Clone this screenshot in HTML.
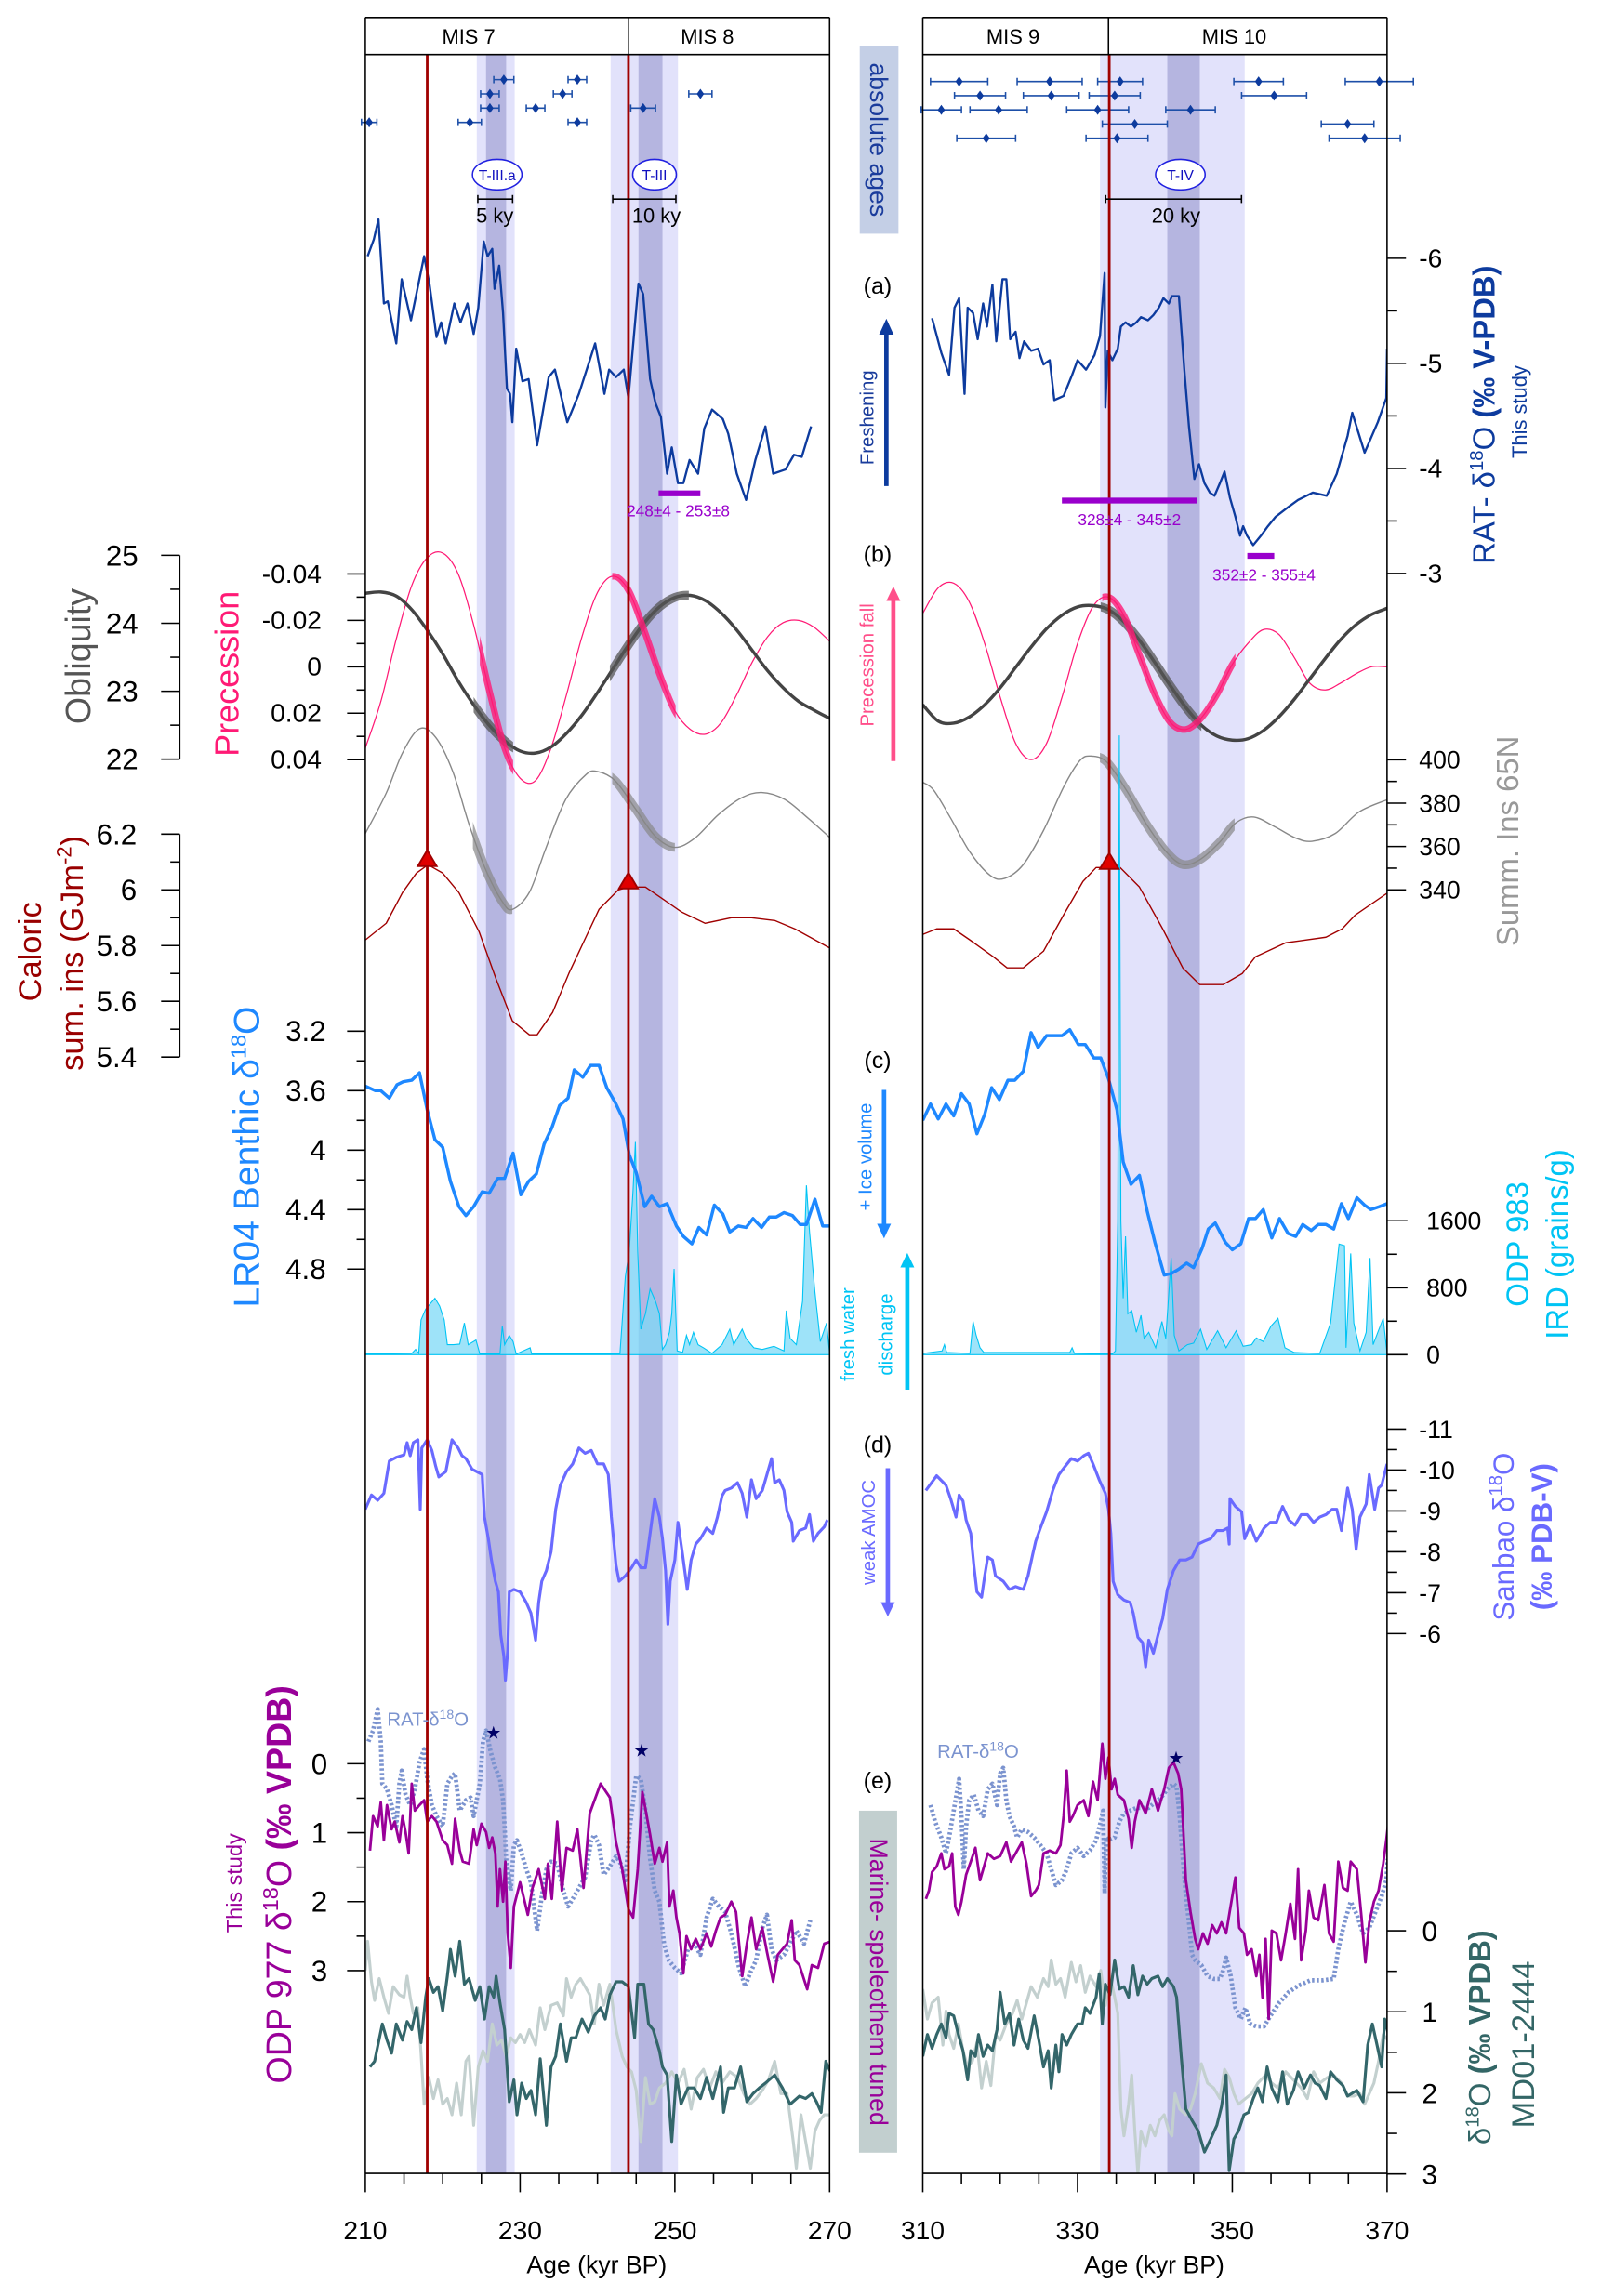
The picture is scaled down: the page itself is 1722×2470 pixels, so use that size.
<!DOCTYPE html>
<html><head><meta charset="utf-8">
<style>
body{margin:0;background:#fff}
svg{display:block}
text{font-family:"Liberation Sans",sans-serif}
</style></head>
<body>
<svg id="chart" width="1722" height="2470" viewBox="0 0 1100 1577.8" preserveAspectRatio="none" xmlns="http://www.w3.org/2000/svg">
<defs>
<clipPath id="clipL"><rect x="251" y="37.5" width="319" height="1456"/></clipPath>
<clipPath id="clipR"><rect x="634" y="37.5" width="319" height="1456"/></clipPath>
</defs>
<g id="bands"></g>
<g id="series"></g>
<g id="redlines"></g>
<g id="axes"></g>

<g>
<line x1="251" y1="12" x2="570" y2="12" stroke="#000" stroke-width="1"/>
<line x1="251" y1="37.5" x2="570" y2="37.5" stroke="#000" stroke-width="1"/>
<line x1="431.7" y1="12" x2="431.7" y2="37.5" stroke="#000" stroke-width="1"/>
<text x="322" y="30" font-size="14" text-anchor="middle">MIS 7</text>
<text x="486" y="30" font-size="14" text-anchor="middle">MIS 8</text>
</g>
<g>
<line x1="634" y1="12" x2="953" y2="12" stroke="#000" stroke-width="1"/>
<line x1="634" y1="37.5" x2="953" y2="37.5" stroke="#000" stroke-width="1"/>
<line x1="761.6" y1="12" x2="761.6" y2="37.5" stroke="#000" stroke-width="1"/>
<text x="696" y="30" font-size="14" text-anchor="middle">MIS 9</text>
<text x="848" y="30" font-size="14" text-anchor="middle">MIS 10</text>
</g>

<g fill="#1010c0">
<ellipse cx="341.6" cy="120" rx="17" ry="10.5" fill="#fff" stroke="#2020e0" stroke-width="1"/>
<text x="341.6" y="124" font-size="10" text-anchor="middle">T-III.a</text>
<ellipse cx="449.7" cy="120" rx="15" ry="10.5" fill="#fff" stroke="#2020e0" stroke-width="1"/>
<text x="449.7" y="124" font-size="10" text-anchor="middle">T-III</text>
<ellipse cx="811" cy="120" rx="17" ry="10.5" fill="#fff" stroke="#2020e0" stroke-width="1"/>
<text x="811" y="124" font-size="10" text-anchor="middle">T-IV</text>
</g>
<g stroke="#000" stroke-width="1">
<line x1="328.3" y1="136.8" x2="352.2" y2="136.8"/><line x1="328.3" y1="134" x2="328.3" y2="139.5"/><line x1="352.2" y1="134" x2="352.2" y2="139.5"/>
<line x1="421" y1="136.8" x2="464.4" y2="136.8"/><line x1="421" y1="134" x2="421" y2="139.5"/><line x1="464.4" y1="134" x2="464.4" y2="139.5"/>
<line x1="759.7" y1="136.8" x2="853" y2="136.8"/><line x1="759.7" y1="134" x2="759.7" y2="139.5"/><line x1="853" y1="134" x2="853" y2="139.5"/>
</g>
<text x="340" y="153" font-size="14" text-anchor="middle">5 ky</text>
<text x="451" y="153" font-size="14" text-anchor="middle">10 ky</text>
<text x="808" y="153" font-size="14" text-anchor="middle">20 ky</text>

<g stroke="#9900cc" stroke-width="4">
<line x1="452.5" y1="339" x2="481.2" y2="339"/>
<line x1="729.6" y1="344" x2="822.2" y2="344"/>
<line x1="857" y1="382" x2="875.5" y2="382"/>
</g>
<text x="466" y="355" font-size="11" fill="#9900cc" text-anchor="middle">248±4 - 253±8</text>
<text x="776" y="361" font-size="11" fill="#9900cc" text-anchor="middle">328±4 - 345±2</text>
<text x="868.5" y="399" font-size="11" fill="#9900cc" text-anchor="middle">352±2 - 355±4</text>

<rect x="590.7" y="31.6" width="26.6" height="129" fill="#c4cfe6"/>
<text transform="translate(598,96) rotate(90)" font-size="17" fill="#1a3c9c" text-anchor="middle">absolute ages</text>
<text x="603" y="202" font-size="16" text-anchor="middle">(a)</text>
<text transform="translate(600,287) rotate(-90)" font-size="13" fill="#1a3c9c" text-anchor="middle">Freshening</text>
<line x1="609" y1="334" x2="609" y2="228" stroke="#0d3b9e" stroke-width="3"/>
<polygon points="604,230 614,230 609,219" fill="#0d3b9e"/>
<text x="603" y="386" font-size="16" text-anchor="middle">(b)</text>
<text transform="translate(600,457) rotate(-90)" font-size="13" fill="#ff4f8a" text-anchor="middle">Precession fall</text>
<line x1="613.8" y1="523" x2="613.8" y2="412" stroke="#ff4f8a" stroke-width="3"/>
<polygon points="609,413 618.6,413 613.8,403" fill="#ff4f8a"/>
<text x="603" y="734" font-size="16" text-anchor="middle">(c)</text>
<text transform="translate(599,795) rotate(-90)" font-size="13" fill="#1e88ff" text-anchor="middle">+ Ice volume</text>
<line x1="607.4" y1="749" x2="607.4" y2="842" stroke="#1e88ff" stroke-width="3"/>
<polygon points="602.6,841 612.2,841 607.4,851" fill="#1e88ff"/>
<text transform="translate(587,917) rotate(-90)" font-size="13" fill="#00c4f4" text-anchor="middle">fresh water</text>
<text transform="translate(613,917) rotate(-90)" font-size="13" fill="#00c4f4" text-anchor="middle">discharge</text>
<line x1="623.4" y1="955" x2="623.4" y2="870" stroke="#00c4f4" stroke-width="3"/>
<polygon points="618.6,871 628.2,871 623.4,861" fill="#00c4f4"/>
<text x="603" y="998" font-size="16" text-anchor="middle">(d)</text>
<text transform="translate(601,1053) rotate(-90)" font-size="13" fill="#6a6aff" text-anchor="middle">weak AMOC</text>
<line x1="610" y1="1009" x2="610" y2="1102" stroke="#6a6aff" stroke-width="3"/>
<polygon points="605.2,1101 614.8,1101 610,1111" fill="#6a6aff"/>
<text x="603" y="1229" font-size="16" text-anchor="middle">(e)</text>
<rect x="590.2" y="1244.3" width="26.2" height="235" fill="#c2cfcf"/>
<text transform="translate(598,1362) rotate(90)" font-size="17" fill="#990099" text-anchor="middle">Marine- speleothem tuned</text>

<text transform="translate(62,451) rotate(-90)" font-size="24" fill="#555" text-anchor="middle">Obliquity</text>
<text transform="translate(164,463) rotate(-90)" font-size="23" fill="#ff1a75" text-anchor="middle">Precession</text>
<text transform="translate(28,654) rotate(-90)" font-size="22" fill="#990000" text-anchor="middle">Caloric</text>
<text transform="translate(57,655) rotate(-90)" font-size="22" fill="#990000" text-anchor="middle">sum. ins (GJm<tspan dy="-8" font-size="14">-2</tspan><tspan dy="8">)</tspan></text>
<text transform="translate(178,795) rotate(-90)" font-size="25" fill="#1e88ff" text-anchor="middle">LR04 Benthic δ<tspan dy="-9" font-size="15">18</tspan><tspan dy="9">O</tspan></text>
<text transform="translate(200,1295) rotate(-90)" font-size="24" fill="#990099" text-anchor="middle">ODP 977 δ<tspan dy="-9" font-size="15">18</tspan><tspan dy="9">O </tspan><tspan font-weight="bold">(‰ VPDB)</tspan></text>
<text transform="translate(166,1294) rotate(-90)" font-size="15" fill="#990099" text-anchor="middle">This study</text>

<text transform="translate(1027,285) rotate(-90)" font-size="21" fill="#0d3b9e" text-anchor="middle">RAT-  δ<tspan dy="-8" font-size="13">18</tspan><tspan dy="8">O </tspan><tspan font-weight="bold">(‰ V-PDB)</tspan></text>
<text transform="translate(1049,283) rotate(-90)" font-size="14" fill="#0d3b9e" text-anchor="middle">This study</text>
<text transform="translate(1043,578) rotate(-90)" font-size="21" fill="#999" text-anchor="middle">Summ. Ins 65N</text>
<text transform="translate(1050,855) rotate(-90)" font-size="21" fill="#00c4f4" text-anchor="middle">ODP 983</text>
<text transform="translate(1077,855) rotate(-90)" font-size="21" fill="#00c4f4" text-anchor="middle">IRD (grains/g)</text>
<text transform="translate(1040,1056) rotate(-90)" font-size="20" fill="#6a6aff" text-anchor="middle">Sanbao  δ<tspan dy="-8" font-size="13">18</tspan><tspan dy="8">O</tspan></text>
<text transform="translate(1066,1056) rotate(-90)" font-size="20" fill="#6a6aff" font-weight="bold" text-anchor="middle">(‰ PDB-V)</text>
<text transform="translate(1024,1400) rotate(-90)" font-size="21" fill="#336666" text-anchor="middle">δ<tspan dy="-8" font-size="13">18</tspan><tspan dy="8">O </tspan><tspan font-weight="bold">(‰ VPDB)</tspan></text>
<text transform="translate(1054,1405) rotate(-90)" font-size="22" fill="#336666" text-anchor="middle">MD01-2444</text>

<text x="266" y="1186" font-size="13" fill="#7b93cf">RAT-δ<tspan dy="-5" font-size="9">18</tspan><tspan dy="5">O</tspan></text>
<text x="644" y="1208" font-size="13" fill="#7b93cf">RAT-δ<tspan dy="-5" font-size="9">18</tspan><tspan dy="5">O</tspan></text>
<text x="339" y="1195" font-size="12" fill="#000066" text-anchor="middle">★</text>
<text x="440.7" y="1207" font-size="12" fill="#000066" text-anchor="middle">★</text>
<text x="808" y="1212" font-size="12" fill="#000066" text-anchor="middle">★</text>

<text x="410" y="1562" font-size="17" text-anchor="middle">Age (kyr BP)</text>
<text x="793" y="1562" font-size="17" text-anchor="middle">Age (kyr BP)</text>
</svg>
<script>
const bandLightL = [[224.4,229.3],[241.7,250.4]];
const bandDarkL = [[225.6,228.2],[245.3,248.4]];
const bandLightR = [[332.9,351.6]];
const bandDarkR = [[341.6,345.8]];
const redAgesL = [218.0,244.0];
const redAgesR = [334.1];

const absAgeL = [210.5,223.5,226.1,226.1,227.9,232.0,235.5,237.4,237.4,245.9,253.3];
const absErrL = [1.0,1.5,1.2,1.2,1.3,1.2,1.2,1.2,1.2,1.6,1.5];
const absRowL = [4,4,3,2,1,3,2,1,4,3,2];
const absAgeR = [314.7,326.4,335.5,353.4,369.0,317.4,326.6,334.8,355.4,312.4,319.8,332.6,344.6,337.4,364.9,318.2,335.1,367.1];
const absErrR = [3.7,4.2,2.9,3.2,4.4,3.3,3.6,3.3,4.2,2.6,3.7,4.0,3.2,4.2,3.4,3.8,4.0,4.6];
const absRowR = [1,1,1,1,1,2,2,2,2,3,3,3,3,4,4,5,5,5];

const ratLAge = [210.3,211.1,211.7,212.4,212.9,214.0,214.7,215.9,217.6,218.3,219.2,219.8,220.4,221.5,222.3,223.2,224.0,224.6,225.3,225.8,226.4,226.7,227.3,227.8,228.3,228.7,229.0,229.5,230.3,231.1,232.2,233.7,234.5,236.1,237.6,239.7,240.9,241.5,242.4,243.4,244.0,245.3,245.9,246.8,247.5,248.2,249.0,249.6,250.4,251.1,251.9,253.0,253.8,254.8,256.2,256.9,258.0,259.2,260.4,261.7,262.7,264.3,265.4,266.4,267.6];
const ratLVal = [-6.02,-6.18,-6.37,-5.57,-5.59,-5.19,-5.80,-5.41,-6.02,-5.75,-5.25,-5.39,-5.19,-5.57,-5.39,-5.57,-5.28,-5.53,-6.16,-6.02,-6.09,-5.71,-5.93,-5.48,-4.76,-4.71,-4.44,-5.14,-4.83,-4.85,-4.22,-4.87,-4.94,-4.44,-4.71,-5.19,-4.71,-4.94,-4.87,-4.94,-4.67,-5.76,-5.66,-4.85,-4.62,-4.49,-3.95,-4.20,-3.86,-3.86,-4.08,-3.95,-4.38,-4.56,-4.47,-4.33,-3.95,-3.70,-4.08,-4.40,-3.95,-3.99,-4.13,-4.11,-4.40];
const ratRAge = [311.2,312.4,313.4,314.1,314.7,315.4,315.8,316.5,317.1,317.8,318.3,319.0,319.5,320.3,320.8,321.3,322.0,322.5,323.1,324.0,324.9,325.6,326.4,327.0,328.2,329.3,330.0,331.1,332.2,332.9,333.5,333.6,333.9,334.5,335.2,335.6,336.2,336.9,337.6,338.2,339.1,339.8,340.5,341.1,341.8,342.2,343.1,343.8,344.4,345.1,345.7,346.4,347.1,347.7,348.4,349.0,349.7,350.4,351.0,351.4,351.9,352.7,353.7,354.6,355.6,357.2,358.5,360.4,362.2,363.5,364.9,365.5,367.1,368.8,369.9,370.0];
const ratRVal = [-5.43,-5.10,-4.89,-5.53,-5.62,-4.71,-5.53,-5.48,-5.23,-5.57,-5.35,-5.75,-5.21,-5.80,-5.80,-5.23,-5.30,-5.05,-5.21,-5.12,-5.14,-4.99,-5.03,-4.65,-4.69,-4.89,-5.03,-4.94,-5.08,-5.26,-5.86,-4.58,-5.12,-5.03,-5.14,-5.35,-5.39,-5.35,-5.39,-5.44,-5.41,-5.46,-5.53,-5.62,-5.57,-5.64,-5.64,-4.94,-4.40,-3.90,-4.04,-3.86,-3.77,-3.74,-3.86,-3.97,-3.72,-3.54,-3.36,-3.45,-3.36,-3.27,-3.36,-3.45,-3.54,-3.63,-3.70,-3.77,-3.74,-3.95,-4.31,-4.53,-4.15,-4.44,-4.67,-5.14];

const orbAgeL = [210,212,214,216,218,220,222,224,226,228,230,232,234,236,238,240,242,244,246,248,250,252,254,256,258,260,262,264,266,268,270];
const precL = [0.035,0.015,-0.012,-0.035,-0.047,-0.049,-0.04,-0.018,0.01,0.035,0.048,0.049,0.035,0.012,-0.013,-0.032,-0.039,-0.033,-0.016,0.003,0.019,0.027,0.029,0.024,0.012,-0.002,-0.013,-0.019,-0.02,-0.017,-0.011];
const oblL = [24.44,24.46,24.4,24.2,23.9,23.55,23.15,22.8,22.5,22.27,22.12,22.09,22.18,22.38,22.65,22.98,23.33,23.68,24.0,24.24,24.38,24.41,24.33,24.15,23.9,23.6,23.3,23.05,22.85,22.72,22.6];
const orbAgeR = [310,312,314,316,318,320,322,324,326,328,330,332,334,336,338,340,342,344,346,348,350,352,354,356,358,360,362,364,366,368,370];
const precR = [-0.023,-0.034,-0.036,-0.028,-0.01,0.013,0.033,0.04,0.033,0.013,-0.01,-0.026,-0.03,-0.022,-0.005,0.012,0.024,0.027,0.022,0.012,-0.001,-0.01,-0.016,-0.014,-0.004,0.007,0.01,0.007,0.003,0.0,0.0];
const oblR = [22.8,22.56,22.53,22.62,22.8,23.05,23.35,23.65,23.92,24.12,24.24,24.26,24.2,24.02,23.75,23.42,23.08,22.76,22.5,22.34,22.28,22.3,22.42,22.62,22.88,23.18,23.48,23.76,23.98,24.13,24.22];

const insAgeL = [210,212.7,214.8,217.0,219.1,221.3,223.4,225.6,227.7,229.0,231.2,233.3,235.9,238.5,240.0,242.3,244.9,247.5,250.0,252.6,255.6,258.6,261.2,264.2,267.2,270.1];
const insValL = [366,384.6,403.1,414.3,410.3,394.6,370.3,348.9,334.6,331,338.9,358.9,381.7,393.1,394.6,390.3,377.4,364.6,359.6,363.9,374.6,382.4,384.9,381.7,373.1,363.9];
const insAgeR = [310,311.4,313.6,316.1,318.7,320.6,323.0,325.6,328.2,330.3,331.8,333.8,336.3,338.9,341.5,343.6,345.8,348.3,350.5,352.8,355.6,358.2,360.3,363.3,366.4,370.1];
const insValR = [389.6,386,373.1,357.4,346.7,345.3,351.7,367.4,387.4,399.6,401.7,398.9,386,370.3,357.4,351.7,353.9,361.7,371,373.6,368.9,363.9,362.4,366,376,381.7];

const calAgeL = [210,212.7,214.8,216.6,218.1,220.0,222.1,224.7,226.9,229.0,231.2,232.2,234.2,236.3,238.5,240.2,242.7,244.0,246.2,248.3,250.9,253.9,257.3,259.9,262.9,265.5,270.1];
const calValL = [5.82,5.88,5.99,6.06,6.09,6.06,5.99,5.85,5.68,5.53,5.48,5.48,5.56,5.70,5.83,5.93,6.0,6.01,6.01,5.97,5.92,5.88,5.90,5.90,5.89,5.86,5.79];
const calAgeR = [310,311.8,314.0,316.1,319.1,320.9,323.0,325.6,328.2,330.7,332.4,335.5,338.0,341.0,343.6,345.8,348.8,351.3,353.0,356.9,362.1,364.2,365.9,370.1];
const calValR = [5.84,5.86,5.86,5.82,5.76,5.72,5.72,5.78,5.91,6.03,6.08,6.08,6.01,5.86,5.72,5.66,5.66,5.70,5.76,5.81,5.83,5.86,5.91,5.99];
const triAgeL = [218.0,244.0];
const triValL = [6.09,6.01];
const triAgeR = [334.1];
const triValR = [6.08];

const lrAgeL = [210.0,211.3,212.0,213.1,214.1,214.9,216.0,217.0,218.0,219.0,220.0,221.0,222.1,223.0,224.0,225.1,226.0,227.1,228.0,229.1,230.1,231.1,232.1,233.1,234.1,235.1,236.2,237.0,238.1,239.1,240.2,241.2,242.3,243.3,244.1,245.0,246.1,247.0,248.0,249.0,250.2,251.1,252.2,253.1,254.1,255.1,256.2,257.1,258.2,259.2,260.1,261.2,262.2,263.1,264.1,265.2,266.2,267.0,268.1,269.1,270.0];
const lrValL = [3.57,3.60,3.60,3.65,3.56,3.54,3.53,3.48,3.73,3.93,3.98,4.21,4.38,4.44,4.38,4.28,4.29,4.19,4.19,4.02,4.30,4.21,4.16,3.96,3.85,3.70,3.65,3.46,3.51,3.43,3.43,3.58,3.68,3.79,4.03,4.15,4.38,4.31,4.38,4.36,4.51,4.58,4.63,4.52,4.57,4.37,4.43,4.55,4.51,4.52,4.46,4.52,4.45,4.45,4.42,4.44,4.50,4.50,4.33,4.51,4.51];
const lrAgeR = [310.0,311.0,312.0,313.0,314.0,315.0,316.0,317.0,318.0,318.9,319.9,321.0,321.9,323.0,324.0,324.9,326.0,327.1,328.0,329.0,330.1,331.0,332.1,333.0,334.0,335.1,335.9,336.9,338.0,339.0,340.0,341.2,342.1,343.1,344.1,345.0,346.1,346.9,347.8,349.1,350.0,351.1,352.1,353.0,354.0,355.1,356.1,357.2,358.2,359.1,360.2,361.1,362.1,363.1,364.1,365.0,366.1,367.1,367.9,369.0,370.0];
const lrValR = [3.80,3.69,3.79,3.69,3.77,3.62,3.69,3.89,3.76,3.58,3.66,3.53,3.53,3.47,3.21,3.31,3.23,3.23,3.23,3.19,3.29,3.29,3.38,3.38,3.52,3.73,4.08,4.23,4.17,4.41,4.62,4.84,4.83,4.80,4.76,4.79,4.66,4.53,4.49,4.62,4.67,4.63,4.46,4.46,4.40,4.59,4.46,4.56,4.58,4.50,4.54,4.50,4.50,4.53,4.36,4.46,4.32,4.37,4.40,4.38,4.36];

const irdAgeL = [210,216.0,216.5,216.9,217.2,217.8,219.0,219.6,220.2,220.6,221.4,222.2,222.8,223.3,224.3,224.8,227.4,227.7,228.0,228.6,229.1,229.5,231.3,231.5,231.8,232.1,242.9,243.6,244.1,244.6,244.9,245.2,245.6,246.2,246.8,247.5,248.0,248.4,248.8,249.3,249.6,249.9,250.3,251.0,251.5,251.9,252.4,253.0,253.7,254.8,256.1,257.1,257.6,258.7,259.2,260.2,261.3,262.8,264.1,264.4,264.9,265.7,266.5,267.0,267.4,268.1,268.8,269.6,270];
const irdValL = [8,15,63,15,415,544,674,581,415,119,119,126,378,119,174,8,8,341,119,230,156,8,82,8,8,8,8,933,1229,1969,2542,1229,304,489,785,637,489,63,119,267,489,1025,45,26,230,119,267,119,82,15,119,304,119,304,193,82,63,100,45,526,193,119,637,2024,1469,748,156,378,8];
const irdAgeR = [310,312.5,312.8,313.1,316.1,316.5,316.9,317.4,317.9,329.0,329.3,329.6,334.5,334.9,335.2,335.4,335.6,335.9,336.2,336.5,337.0,337.6,338.2,338.6,339.2,340.1,340.9,341.4,342.1,342.5,343.1,344.2,345.0,345.9,346.7,348.1,349.2,350.5,351.4,352.5,353.1,354.0,355.0,355.9,356.8,358.0,361.3,362.7,363.8,364.5,364.7,365.3,365.7,366.5,367.3,367.8,368.2,368.8,369.5,370];
const irdValR = [15,45,119,26,15,396,230,82,26,26,82,15,8,45,1599,7400,1599,674,1414,489,526,267,470,193,267,82,396,193,1155,230,45,119,137,304,63,285,82,285,100,119,200,156,341,433,82,26,15,378,1321,1303,82,1210,378,45,267,1155,119,267,433,15];

const sanAgeL = [210.0,210.8,211.6,212.4,213.1,214.0,215.0,215.4,215.8,216.2,216.8,217.1,217.3,218.0,218.6,219.1,219.5,220.4,221.2,222.0,222.5,223.0,223.8,224.4,225.1,225.4,225.9,226.3,226.8,227.2,227.5,227.9,228.1,228.4,228.6,229.2,230.0,230.8,231.4,232.0,232.4,232.8,233.4,234.0,234.6,235.2,236.0,236.8,237.6,238.4,239.2,240.0,240.8,241.4,241.8,242.4,242.8,243.6,244.4,245.0,245.6,246.2,246.8,247.4,248.0,248.4,248.8,249.1,249.4,250.0,250.4,251.0,251.6,252.1,252.7,253.3,254.1,254.9,255.5,256.1,256.5,257.3,258.1,258.7,259.3,259.9,260.5,261.3,261.9,262.5,262.9,263.5,264.1,264.5,265.1,265.3,266.1,266.9,267.4,267.9,268.5,269.3,269.7];
const sanValL = [-9.04,-9.39,-9.26,-9.43,-10.22,-10.31,-10.37,-10.67,-10.35,-10.67,-10.74,-9.04,-10.54,-10.74,-10.48,-10.09,-9.83,-9.96,-10.74,-10.54,-10.35,-10.28,-10.02,-9.96,-9.89,-8.85,-8.32,-7.80,-7.28,-7.02,-5.97,-5.45,-4.86,-5.58,-7.02,-7.08,-7.02,-6.76,-6.50,-5.84,-6.76,-7.28,-7.54,-8.0,-9.04,-9.63,-9.96,-10.15,-10.54,-10.41,-10.48,-10.15,-10.15,-9.89,-8.85,-7.67,-7.28,-7.41,-7.61,-7.80,-7.61,-7.61,-8.45,-9.30,-8.85,-8.32,-7.54,-6.23,-7.28,-7.80,-8.72,-7.93,-7.08,-7.80,-8.19,-8.32,-8.58,-8.45,-8.85,-9.37,-9.50,-9.56,-9.69,-9.43,-8.85,-9.76,-9.30,-9.50,-9.89,-10.28,-9.69,-9.76,-9.50,-8.98,-8.72,-8.26,-8.52,-8.58,-8.91,-8.26,-8.45,-8.61,-8.78];
const sanAgeR = [310.4,311.8,313.0,313.6,314.3,314.7,315.2,315.6,316.2,316.6,317.0,317.6,318.0,318.4,319.0,319.4,320.4,321.2,322.0,323.0,323.6,324.2,324.6,325.2,326.0,326.8,327.6,328.4,329.2,330.0,330.8,331.4,332.0,332.8,333.6,334.0,334.3,334.6,335.2,336.0,336.8,337.2,337.8,338.4,338.8,339.2,339.8,340.4,341.0,341.6,342.4,343.2,344.0,344.8,345.6,346.4,347.2,348.0,348.8,349.4,349.6,349.7,350.4,351.2,351.6,352.3,353.1,354.1,354.9,355.7,356.5,357.3,358.1,358.9,359.7,360.5,361.3,362.1,362.9,363.5,364.1,364.9,365.5,366.0,366.5,367.3,367.7,368.4,368.9,369.3,370.0];
const sanValR = [-9.50,-9.86,-9.63,-9.30,-8.85,-9.39,-9.24,-8.78,-8.45,-7.67,-7.02,-6.89,-7.41,-7.87,-7.80,-7.41,-7.28,-7.08,-7.15,-7.08,-7.41,-7.93,-8.26,-8.58,-8.98,-9.50,-9.89,-10.09,-10.28,-10.22,-10.35,-10.41,-10.15,-9.76,-9.43,-9.04,-8.45,-7.28,-6.95,-6.82,-6.76,-6.50,-5.91,-5.78,-5.19,-5.84,-5.52,-5.97,-6.37,-7.08,-7.54,-7.80,-7.80,-7.87,-8.19,-8.26,-8.32,-8.52,-8.52,-8.58,-8.19,-9.30,-9.11,-8.98,-8.32,-8.65,-8.26,-8.58,-8.72,-8.72,-9.11,-8.78,-8.65,-8.91,-8.91,-8.72,-8.85,-8.91,-9.04,-9.04,-8.52,-9.56,-9.04,-8.06,-8.85,-9.17,-9.89,-9.04,-9.56,-9.63,-10.15];

const odpAgeL = [210.6,211.0,211.6,212.0,212.4,212.8,213.4,213.8,214.4,214.8,215.2,215.6,216.0,216.4,217.0,217.6,218.0,218.6,219.2,220.0,220.6,221.2,221.6,222.2,222.6,223.4,224.0,224.4,225.0,225.6,226.0,226.4,226.8,227.1,227.4,227.8,228.1,228.4,228.8,229.2,230.0,231.0,231.6,232.4,233.2,233.6,234.1,234.8,235.4,236.0,236.8,237.4,238.2,239.0,240.4,241.6,242.4,243.2,244.0,244.6,245.2,245.8,246.8,247.4,248.0,248.4,249.0,249.3,249.8,250.2,250.6,251.1,251.5,252.1,252.7,253.3,254.1,254.7,255.3,255.9,256.5,257.3,257.9,258.7,259.3,259.9,260.5,261.3,261.9,262.7,263.3,263.9,264.5,265.1,265.5,266.1,267.1,267.7,268.5,269.3,270.1];
const odpValL = [1.26,0.76,0.91,0.56,1.11,0.60,0.95,0.84,1.14,0.76,0.99,1.30,0.29,0.68,0.60,0.53,0.84,0.76,0.84,1.11,1.18,1.45,0.80,1.26,1.42,1.45,0.95,1.18,0.87,0.99,1.22,1.07,1.30,2.07,1.53,2.0,1.42,2.46,2.96,2.07,1.72,2.19,1.80,1.53,1.96,1.45,1.96,0.84,1.84,1.22,1.26,0.95,1.80,0.72,0.29,0.49,1.14,1.53,2.11,2.23,1.53,0.41,1.03,1.45,1.22,1.42,1.14,2.07,1.84,2.23,2.46,3.04,2.50,2.69,2.54,2.69,2.46,2.65,2.42,2.23,2.19,2.0,2.15,3.08,2.61,2.23,2.69,2.38,2.73,3.16,2.77,2.69,2.61,2.27,2.85,2.92,3.27,2.92,2.96,2.61,2.58];
const ratdAgeL = [210.4,211.0,211.6,212.0,212.2,212.8,213.4,214.0,214.4,214.7,215.2,215.8,216.4,217.0,217.6,218.0,218.6,219.2,220.0,220.6,221.2,221.6,222.2,223.0,223.6,224.0,224.8,225.2,225.6,226.2,226.8,227.4,227.8,228.0,228.2,228.8,229.2,229.6,230.2,230.8,231.4,232.2,232.8,233.4,234.0,234.8,235.6,236.2,236.8,237.6,238.4,239.2,239.6,240.2,240.8,241.6,242.4,243.0,243.6,244.2,245.0,245.6,246.2,246.8,247.4,248.0,248.6,249.2,250.0,250.8,251.7,252.5,253.3,254.1,254.9,255.7,256.5,257.3,258.3,259.1,259.7,260.5,261.3,261.9,262.5,263.1,264.1,264.9,265.7,266.7,267.5];
const ratdValL = [-0.32,-0.48,-0.79,-0.32,0.29,0.37,0.60,0.91,0.29,0.10,0.45,0.60,0.37,-0.02,-0.21,0.22,0.60,0.76,0.91,0.29,0.18,0.14,0.68,0.53,0.49,0.76,0.29,-0.32,-0.48,-0.17,0.06,0.22,0.53,0.91,1.38,1.84,1.18,1.11,1.30,1.53,1.72,2.42,1.92,1.53,1.42,1.45,1.84,2.07,1.96,1.80,1.65,1.11,1.03,1.18,1.61,1.49,1.34,1.45,1.69,0.91,0.18,0.22,0.68,1.38,1.84,2.0,2.61,2.85,2.96,3.04,2.69,2.61,2.77,2.23,1.96,2.07,2.15,2.46,2.96,3.23,3.04,2.85,2.38,2.19,2.69,2.85,2.77,2.61,2.42,2.61,2.27];
const mdAgeL = [210.6,211.2,212.2,212.8,213.4,214.0,214.8,215.4,216.0,216.6,217.2,217.8,218.2,218.8,219.4,220.0,220.6,221.0,221.6,222.2,222.8,223.4,224.2,224.8,225.4,226.0,226.6,226.9,227.4,228.0,228.6,229.2,229.6,230.2,230.8,231.4,232.0,232.6,233.4,234.0,234.6,235.2,236.0,236.6,237.2,238.0,238.8,239.6,240.4,241.0,241.6,242.4,243.2,244.0,244.8,245.2,246.0,246.6,247.2,248.0,248.4,249.0,249.6,250.2,250.8,251.7,252.5,253.3,254.1,254.9,255.9,256.3,256.9,257.7,258.5,259.3,260.1,260.9,261.7,262.9,263.9,264.9,266.1,266.9,267.7,268.3,268.9,269.5,270.1];
const mdValL = [1.68,1.61,1.15,1.35,1.51,1.15,1.35,1.12,1.22,0.95,1.38,0.82,0.59,0.76,0.69,0.99,0.56,0.23,0.56,0.13,0.66,0.59,0.86,0.69,1.09,0.69,0.82,0.56,0.89,1.22,2.11,1.84,2.27,1.88,2.07,1.97,2.27,1.58,2.40,1.68,1.55,1.15,1.61,1.32,1.32,1.09,1.25,1.05,0.95,1.09,0.79,0.63,0.63,0.69,1.32,0.66,0.66,1.15,1.22,1.48,1.68,1.78,2.60,1.78,2.14,1.94,1.94,2.07,1.81,2.07,1.68,2.24,1.94,1.94,1.68,2.11,2.01,1.94,1.88,1.78,1.94,2.14,2.04,2.07,2.01,2.11,2.24,1.61,1.74];
const lgAgeL = [210.0,210.3,210.8,211.2,211.8,212.4,213.0,213.6,214.4,215.0,215.4,215.8,216.2,216.8,217.2,217.6,218.2,218.8,219.4,220.0,220.6,221.2,221.8,222.4,223.0,223.4,224.0,224.6,225.2,225.8,226.4,227.0,227.6,228.2,228.8,229.4,230.0,230.6,231.2,232.0,232.6,233.2,234.0,234.8,235.6,236.0,236.6,237.2,237.8,238.4,239.0,239.6,240.2,240.8,241.6,242.4,243.2,243.8,244.4,245.0,245.6,246.2,246.8,247.4,248.0,248.8,249.6,250.4,251.2,252.1,252.9,253.7,254.5,255.3,256.1,257.1,258.1,258.9,259.7,260.5,261.3,262.1,262.9,263.7,264.5,265.3,265.7,266.3,266.9,267.5,268.1,268.7,269.3,270.1];
const lgValL = [0.49,0.13,0.63,0.86,0.59,0.82,1.02,0.69,0.79,0.82,0.56,0.82,1.02,0.95,1.51,2.14,1.81,2.07,1.84,2.14,2.07,2.27,1.88,2.27,1.61,1.55,2.40,1.68,1.48,1.61,1.15,1.41,1.35,1.55,1.32,1.38,1.28,1.38,1.22,1.41,0.95,1.22,0.92,0.89,1.05,0.59,0.82,0.66,0.59,0.69,0.79,1.15,0.66,0.92,0.66,1.22,1.55,1.68,1.74,1.97,2.60,1.81,2.14,2.11,1.94,1.88,1.74,1.88,1.71,2.20,1.81,1.71,1.94,1.74,1.88,1.74,1.81,2.01,2.14,2.07,1.97,1.84,1.61,2.01,2.01,2.60,2.93,2.27,2.60,2.93,2.47,2.34,2.27,2.27];

const odpAgeR = [310.4,310.8,311.2,311.8,312.4,312.8,313.4,313.8,314.2,314.6,315.0,315.6,316.2,316.8,317.4,318.4,319.2,320.0,320.8,321.4,322.0,322.8,323.4,324.0,324.6,325.0,325.6,326.4,327.2,327.8,328.2,328.6,329.0,329.4,330.0,330.8,331.4,332.0,332.6,333.2,333.6,334.0,334.4,334.8,335.2,336.0,336.6,337.0,337.4,338.0,338.8,339.6,340.4,341.2,341.8,342.4,343.0,343.4,344.0,344.6,345.2,345.6,346.2,346.8,347.4,348.0,348.6,349.2,350.0,350.4,350.9,351.5,351.9,352.5,353.1,353.5,353.9,354.3,354.7,355.1,355.7,356.3,356.9,357.5,358.1,358.5,358.9,359.5,359.9,360.5,361.1,361.9,362.5,363.1,363.7,364.3,364.9,365.3,366.1,366.7,367.2,367.7,368.3,368.9,369.5,369.9,370.1];
const odpValR = [1.96,1.84,1.57,1.49,1.30,1.53,1.49,1.30,2.07,2.19,2.0,1.61,1.42,1.22,1.69,1.30,1.38,1.34,1.14,1.42,1.30,1.14,1.45,1.92,1.84,1.76,1.30,1.26,1.30,1.18,0.76,0.10,0.84,0.76,0.60,0.53,0.76,0.26,0.53,-0.29,0.22,-0.09,0.37,0.22,0.45,0.53,0.80,1.22,0.84,0.53,0.72,0.37,0.68,0.37,0.06,-0.02,0.14,0.37,1.69,2.15,2.54,2.69,2.46,2.61,2.34,2.46,2.30,2.46,1.92,1.65,2.38,2.46,2.77,2.69,3.08,2.77,3.39,2.54,3.70,2.42,2.46,2.85,2.46,2.03,2.54,1.53,2.85,2.42,1.84,2.23,2.27,1.76,2.46,2.58,1.42,1.80,1.84,1.42,1.53,2.23,2.88,2.30,2.0,1.84,1.45,1.11,0.91];
const ratdAgeR = [311.0,311.6,312.4,313.0,313.4,314.0,314.7,315.0,315.3,315.6,316.0,316.6,317.2,317.8,318.4,319.0,319.6,320.0,320.4,320.8,321.2,321.8,322.2,322.8,323.6,324.4,325.2,326.0,326.6,327.2,328.0,328.6,329.2,330.0,330.8,331.6,332.4,333.0,333.3,333.5,333.7,334.0,334.8,335.4,336.0,336.8,337.6,338.4,339.2,340.0,340.8,341.6,342.4,342.8,343.2,343.6,344.0,344.4,344.8,345.2,346.0,346.8,347.6,348.4,348.8,349.2,349.8,350.4,351.1,351.7,352.3,353.1,354.1,354.9,356.1,357.3,358.5,360.1,361.7,363.1,363.7,364.5,365.3,366.1,366.9,367.7,368.5,369.3,369.9,370.1];
const ratdValR = [0.60,0.84,1.07,1.30,1.07,0.68,0.22,0.76,1.53,0.91,0.53,0.45,0.68,0.76,0.37,0.29,0.60,0.14,0.06,0.53,0.76,0.91,1.07,0.95,0.99,1.07,1.18,1.30,1.53,1.76,1.69,1.53,1.30,1.22,1.34,1.26,1.11,0.84,0.68,1.88,1.07,1.11,1.07,0.84,0.72,0.68,0.64,0.64,0.64,0.56,0.49,0.37,0.29,0.33,0.76,1.38,1.92,2.30,2.77,2.85,2.92,3.08,3.12,3.12,3.0,2.81,3.08,3.54,3.70,3.54,3.77,3.81,3.81,3.66,3.46,3.31,3.22,3.14,3.14,3.12,2.69,2.30,2.0,2.19,2.46,2.38,2.15,1.92,1.69,1.38];
const mdAgeR = [310.0,310.6,311.2,311.8,312.4,313.0,313.4,314.0,314.6,315.2,315.8,316.2,316.8,317.2,317.8,318.4,319.0,319.6,320.0,320.6,321.2,321.8,322.4,323.0,323.6,324.4,325.0,325.6,326.2,326.6,327.2,327.6,328.0,328.6,329.2,330.0,330.6,331.0,331.6,332.4,332.8,333.2,333.6,334.2,334.8,335.4,336.0,336.6,337.2,337.8,338.4,339.0,339.6,340.4,341.0,341.6,342.4,342.8,343.4,344.0,344.8,345.6,346.4,347.2,348.0,348.6,349.2,349.6,350.2,350.8,351.5,352.1,352.7,353.3,353.9,354.5,355.1,355.9,356.5,357.1,357.9,358.5,359.3,360.1,360.7,361.3,362.1,362.7,363.5,364.3,364.9,366.1,366.9,367.5,368.1,368.7,369.3,369.7,370.1];
const mdValR = [1.55,1.28,1.45,1.28,1.15,1.32,1.02,1.05,1.28,1.48,1.84,1.48,1.55,1.28,1.55,1.41,1.48,1.22,0.76,1.15,1.02,1.41,1.09,1.35,1.45,1.05,1.35,1.68,1.48,1.94,1.41,1.74,1.28,1.41,1.28,1.15,1.15,0.95,1.02,0.82,0.53,1.15,0.66,0.79,0.36,0.72,0.69,0.82,0.43,0.79,0.56,0.66,0.59,0.56,0.69,0.59,0.69,0.82,1.55,2.20,2.34,2.47,2.73,2.57,2.40,2.17,1.78,2.96,2.57,2.47,2.27,2.24,2.07,1.94,2.11,1.68,1.94,2.11,1.74,2.14,1.97,1.74,1.94,1.78,1.88,1.91,2.07,1.74,1.84,1.91,2.04,1.97,2.11,1.41,1.15,1.41,1.68,1.09,1.25];
const lgAgeR = [310.0,310.6,311.2,312.0,312.6,313.0,313.4,314.0,314.6,315.2,315.8,316.4,317.0,317.6,318.2,318.8,319.4,320.0,320.8,321.6,322.2,322.8,323.4,324.0,324.8,325.6,326.2,326.6,327.2,327.8,328.4,329.2,329.8,330.4,331.0,331.6,332.4,333.0,333.6,334.2,334.8,335.2,335.6,336.0,336.6,337.0,337.4,337.8,338.2,338.8,339.4,340.0,340.6,341.2,341.8,342.2,342.6,343.2,344.0,344.6,345.2,346.0,346.8,347.6,348.4,349.0,349.6,350.2,350.8,351.7,352.5,353.3,354.3,355.1,355.9,356.9,357.9,358.9,359.7,360.5,361.3,362.3,363.1,364.1,364.9,365.7,366.5,367.1,367.7,368.3,368.9,369.5,370.1];
const lgValR = [0.72,1.09,0.89,0.82,1.41,0.99,1.28,1.45,1.15,1.48,1.68,1.61,1.38,1.94,1.61,1.91,1.28,1.35,1.15,1.02,0.86,1.09,0.89,0.69,0.82,0.59,0.69,0.36,0.66,0.59,0.82,0.39,0.63,0.43,0.76,0.56,0.69,0.49,0.92,0.56,0.82,1.02,2.20,2.53,2.14,1.78,2.47,3.0,2.47,2.66,2.40,2.53,2.34,2.27,2.47,2.53,2.01,2.20,2.27,2.20,2.01,1.64,1.88,1.94,2.07,1.71,1.81,2.01,2.14,2.07,2.01,1.88,1.78,1.88,1.94,1.74,1.84,1.94,2.07,1.74,1.88,1.81,1.78,1.88,2.04,2.04,2.01,2.14,2.01,1.88,1.61,1.28,1.35];

const xTicksL = [210,230,250,270];
const xTicksR = [310,330,350,370];
const ratTicks = [-6,-5,-4,-3];
const precTicks = [-0.04,-0.02,0,0.02,0.04];
const oblTicks = [25,24,23,22];
const insTicks = [400,380,360,340];
const calTicks = [6.2,6,5.8,5.6,5.4];
const lrTicks = [3.2,3.6,4,4.4,4.8];
const irdTicks = [1600,800,0];
const sanTicks = [-11,-10,-9,-8,-7,-6];
const odpTicks = [0,1,2,3];
const mdTicks = [0,1,2,3];

const xL = a => 251 + (a - 210) * 5.317;
const xR = a => 634 + (a - 310) * 5.317;
const yRAT = v => 177.5 + (v + 6) * 72.2;
const yPrec = v => 458.2 + v * 1595;
const yObl = v => 381.6 + (25 - v) * 46.7;
const yIns = v => 522.1 + (400 - v) * 1.49;
const yCal = v => 573.2 + (6.2 - v) * 191.5;
const yLR = v => 708.6 + (v - 3.2) * 102.2;
const yIRD = v => 930.9 - v * 0.0575;
const ySan = v => 982.1 + (v + 11) * 28.1;
const yODP = v => 1212 + v * 47.4;
const yMD = v => 1326.8 + v * 55.7;
const TOP = 37.5, BOT = 1493.5;

const NS = 'http://www.w3.org/2000/svg';
const svg = document.getElementById('chart');
const gB = document.getElementById('bands');
const gS = document.getElementById('series');
const gR = document.getElementById('redlines');
const gA = document.getElementById('axes');
function mk(tag, parent) { const e = document.createElementNS(NS, tag); parent.appendChild(e); return e; }

function linePath(ages, vals, xf, yf) {
  let d = '';
  for (let i = 0; i < ages.length; i++) d += (i ? 'L' : 'M') + xf(ages[i]).toFixed(2) + ',' + yf(vals[i]).toFixed(2);
  return d;
}
function smoothPath(ages, vals, xf, yf) {
  const p = ages.map((a, i) => [xf(a), yf(vals[i])]);
  let d = 'M' + p[0][0].toFixed(2) + ',' + p[0][1].toFixed(2);
  for (let i = 0; i < p.length - 1; i++) {
    const p0 = p[i - 1] || p[i], p1 = p[i], p2 = p[i + 1], p3 = p[i + 2] || p2;
    const c1 = [p1[0] + (p2[0] - p0[0]) / 6, p1[1] + (p2[1] - p0[1]) / 6];
    const c2 = [p2[0] - (p3[0] - p1[0]) / 6, p2[1] - (p3[1] - p1[1]) / 6];
    d += 'C' + c1[0].toFixed(2) + ',' + c1[1].toFixed(2) + ' ' + c2[0].toFixed(2) + ',' + c2[1].toFixed(2) + ' ' + p2[0].toFixed(2) + ',' + p2[1].toFixed(2);
  }
  return d;
}
let clipN = 0;
function rangeClip(xf, a0, a1) {
  const defs = svg.querySelector('defs');
  const cp = mk('clipPath', defs);
  const id = 'rc' + (clipN++);
  cp.setAttribute('id', id);
  const r = mk('rect', cp);
  r.setAttribute('x', xf(a0)); r.setAttribute('y', 0);
  r.setAttribute('width', xf(a1) - xf(a0)); r.setAttribute('height', 1600);
  return id;
}
function series(d, color, width, name, side, extra) {
  const p = mk('path', gS);
  p.setAttribute('d', d);
  p.setAttribute('fill', 'none');
  p.setAttribute('stroke', color);
  p.setAttribute('stroke-width', width);
  p.setAttribute('stroke-linejoin', 'round');
  p.setAttribute('clip-path', 'url(#clip' + side + ')');
  if (extra) for (const k in extra) p.setAttribute(k, extra[k]);
  
  
  return p;
}
function highlight(d, color, width, name, xf, a0, a1, op) {
  const g = mk('g', gS);
  g.setAttribute('clip-path', 'url(#' + rangeClip(xf, a0, a1) + ')');
  
  
  const p = mk('path', g);
  p.setAttribute('d', d);
  p.setAttribute('fill', 'none');
  p.setAttribute('stroke', color);
  p.setAttribute('stroke-width', width);
  p.setAttribute('stroke-linecap', 'round');
  p.setAttribute('stroke-opacity', op);
  
  
}

function bands(list, xf, color, nm) {
  list.forEach(b => {
    const r = mk('rect', gB);
    r.setAttribute('x', xf(b[0])); r.setAttribute('y', TOP);
    r.setAttribute('width', xf(b[1]) - xf(b[0])); r.setAttribute('height', BOT - TOP);
    r.setAttribute('fill', color);
    
    
  });
}
bands(bandLightL, xL, '#e2e2fb', 'transition-band-light');
bands(bandLightR, xR, '#e2e2fb', 'transition-band-light');
bands(bandDarkL, xL, '#b5b5e0', 'transition-band-dark');
bands(bandDarkR, xR, '#b5b5e0', 'transition-band-dark');

function absAges(ages, errs, rows, xf, y0, dy) {
  ages.forEach((a, i) => {
    const y = y0 + (rows[i] - 1) * dy;
    const l = mk('line', gS);
    l.setAttribute('x1', xf(a - errs[i])); l.setAttribute('x2', xf(a + errs[i]));
    l.setAttribute('y1', y); l.setAttribute('y2', y);
    l.setAttribute('stroke', '#1d4fa8'); l.setAttribute('stroke-width', 1);
    
    
    [a - errs[i], a + errs[i]].forEach(e => {
      const c = mk('line', gS);
      c.setAttribute('x1', xf(e)); c.setAttribute('x2', xf(e));
      c.setAttribute('y1', y - 2.5); c.setAttribute('y2', y + 2.5);
      c.setAttribute('stroke', '#1d4fa8'); c.setAttribute('stroke-width', 1);
      
      
    });
    const dm = mk('polygon', gS);
    const x = xf(a);
    dm.setAttribute('points', `${x},${y - 3.5} ${x + 2.5},${y} ${x},${y + 3.5} ${x - 2.5},${y}`);
    dm.setAttribute('fill', '#0d3b9e');
    
    
  });
}
absAges(absAgeL, absErrL, absRowL, xL, 54.7, 9.8);
absAges(absAgeR, absErrR, absRowR, xR, 56, 9.75);

series(linePath(ratLAge, ratLVal, xL, yRAT), '#0d3b9e', 1.5, 'rat-d18o-left', 'L');
series(linePath(ratRAge, ratRVal, xR, yRAT), '#0d3b9e', 1.5, 'rat-d18o-right', 'R');

const oblDL = smoothPath(orbAgeL, oblL, xL, yObl), oblDR = smoothPath(orbAgeR, oblR, xR, yObl);
const prcDL = smoothPath(orbAgeL, precL, xL, yPrec), prcDR = smoothPath(orbAgeR, precR, xR, yPrec);
series(prcDL, '#ff1a75', 0.8, 'precession-left', 'L');
series(prcDR, '#ff1a75', 0.8, 'precession-right', 'R');
series(oblDL, '#444', 2.2, 'obliquity-left', 'L');
series(oblDR, '#444', 2.2, 'obliquity-right', 'R');
highlight(oblDL, '#555', 6, 'obliquity-highlight', xL, 224.0, 229.1, 0.75);
highlight(oblDL, '#555', 6, 'obliquity-highlight', xL, 241.6, 251.8, 0.75);
highlight(oblDR, '#555', 6, 'obliquity-highlight', xR, 333.0, 346.0, 0.75);
highlight(prcDL, '#ff1a75', 4.5, 'precession-highlight', xL, 224.8, 229.1, 0.8);
highlight(prcDL, '#ff1a75', 4.5, 'precession-highlight', xL, 241.9, 250.1, 0.8);
highlight(prcDR, '#ff1a75', 4.5, 'precession-highlight', xR, 333.2, 350.4, 0.8);

const insDL = smoothPath(insAgeL, insValL, xL, yIns), insDR = smoothPath(insAgeR, insValR, xR, yIns);
series(insDL, '#888', 0.9, 'summer-insolation-left', 'L');
series(insDR, '#888', 0.9, 'summer-insolation-right', 'R');
highlight(insDL, '#888', 6, 'insolation-highlight', xL, 223.9, 229.0, 0.7);
highlight(insDL, '#888', 6, 'insolation-highlight', xL, 241.9, 250.0, 0.7);
highlight(insDR, '#888', 6, 'insolation-highlight', xR, 332.9, 350.3, 0.7);
series(linePath(calAgeL, calValL, xL, yCal), '#a00000', 0.9, 'caloric-insolation-left', 'L');
series(linePath(calAgeR, calValR, xR, yCal), '#a00000', 0.9, 'caloric-insolation-right', 'R');

function area(ages, vals, xf, yf, name, side) {
  let d = 'M' + xf(ages[0]) + ',' + yf(0);
  ages.forEach((a, i) => { d += 'L' + xf(a).toFixed(2) + ',' + yf(vals[i]).toFixed(2); });
  d += 'L' + xf(ages[ages.length - 1]) + ',' + yf(0) + 'Z';
  const p = mk('path', gS);
  p.setAttribute('d', d);
  p.setAttribute('fill', '#7dd9f7');
  p.setAttribute('fill-opacity', '0.75');
  p.setAttribute('stroke', '#00c4f4');
  p.setAttribute('stroke-width', 0.7);
  p.setAttribute('clip-path', 'url(#clip' + side + ')');
  
  
}
area(irdAgeL, irdValL, xL, yIRD, 'ird-area-left', 'L');
area(irdAgeR, irdValR, xR, yIRD, 'ird-area-right', 'R');
series(linePath(lrAgeL, lrValL, xL, yLR), '#1e88ff', 2.2, 'lr04-left', 'L');
series(linePath(lrAgeR, lrValR, xR, yLR), '#1e88ff', 2.2, 'lr04-right', 'R');

series(linePath(sanAgeL, sanValL, xL, ySan), '#6a6aff', 2, 'sanbao-left', 'L');
series(linePath(sanAgeR, sanValR, xR, ySan), '#6a6aff', 2, 'sanbao-right', 'R');

series(linePath(lgAgeL, lgValL, xL, yMD), '#c3d0cf', 2, 'light-record-left', 'L');
series(linePath(lgAgeR, lgValR, xR, yMD), '#c3d0cf', 2, 'light-record-right', 'R');
series(linePath(mdAgeL, mdValL, xL, yMD), '#33666a', 2, 'md01-2444-left', 'L');
series(linePath(mdAgeR, mdValR, xR, yMD), '#33666a', 2, 'md01-2444-right', 'R');
series(linePath(ratdAgeL, ratdValL, xL, yODP), '#7b93cf', 3, 'rat-dotted-left', 'L', {'stroke-dasharray': '1.6,1.6'});
series(linePath(ratdAgeR, ratdValR, xR, yODP), '#7b93cf', 3, 'rat-dotted-right', 'R', {'stroke-dasharray': '1.6,1.6'});
series(linePath(odpAgeL, odpValL, xL, yODP), '#990099', 1.8, 'odp977-left', 'L');
series(linePath(odpAgeR, odpValR, xR, yODP), '#990099', 1.8, 'odp977-right', 'R');

function redLine(a, xf) {
  const l = mk('line', gR);
  l.setAttribute('x1', xf(a)); l.setAttribute('x2', xf(a));
  l.setAttribute('y1', TOP); l.setAttribute('y2', BOT);
  l.setAttribute('stroke', '#a00000'); l.setAttribute('stroke-width', 1.8);
  
  
}
redAgesL.forEach(a => redLine(a, xL));
redAgesR.forEach(a => redLine(a, xR));
function tris(ages, vals, xf) {
  ages.forEach((a, i) => {
    const x = xf(a), y = yCal(vals[i]);
    const t = mk('polygon', gR);
    t.setAttribute('points', `${x - 6.5},${y + 1} ${x + 6.5},${y + 1} ${x},${y - 10}`);
    t.setAttribute('fill', '#e00000');
    t.setAttribute('stroke', '#a00000');
    t.setAttribute('stroke-width', 1.2);
    
    
  });
}
tris(triAgeL, triValL, xL);
tris(triAgeR, triValR, xR);

function ln(x1, y1, x2, y2, name, w) {
  const l = mk('line', gA);
  l.setAttribute('x1', x1); l.setAttribute('y1', y1); l.setAttribute('x2', x2); l.setAttribute('y2', y2);
  l.setAttribute('stroke', '#000'); l.setAttribute('stroke-width', w || 1);
  
  
}
function tx(x, y, s, anchor, size, name) {
  const t = mk('text', gA);
  t.setAttribute('x', x); t.setAttribute('y', y);
  t.setAttribute('text-anchor', anchor); t.setAttribute('font-size', size);
  t.textContent = s;
  
  
}
[251, 570, 634, 953].forEach(x => ln(x, 12, x, BOT, 'panel-frame'));
ln(251, BOT, 570, BOT, 'x-axis-left');
ln(634, BOT, 953, BOT, 'x-axis-right');
function xAxis(ticks, xf, start) {
  for (let a = start; a <= start + 60; a += 5) {
    const major = (a - start) % 20 === 0;
    ln(xf(a), BOT, xf(a), BOT + (major ? 13 : 7), 'x-tick');
  }
  ticks.forEach(t => tx(xf(t), 1539, String(t), 'middle', 18, 'x-tick-label'));
}
xAxis(xTicksL, xL, 210);
xAxis(xTicksR, xR, 310);
ratTicks.forEach(v => { ln(953, yRAT(v), 966, yRAT(v), 'rat-tick'); tx(975, yRAT(v) + 6, String(v), 'start', 18, 'rat-tick-label'); });
[-5.5, -4.5, -3.5].forEach(v => ln(953, yRAT(v), 960, yRAT(v), 'rat-minor-tick'));
precTicks.forEach(v => { ln(238.5, yPrec(v), 251, yPrec(v), 'precession-tick'); tx(221, yPrec(v) + 6, String(v), 'end', 18, 'precession-tick-label'); });
[-0.03, -0.01, 0.01, 0.03].forEach(v => ln(245, yPrec(v), 251, yPrec(v), 'precession-minor-tick'));
ln(123.5, yObl(25), 123.5, yObl(22), 'obliquity-axis-line');
oblTicks.forEach(v => { ln(110.7, yObl(v), 123.5, yObl(v), 'obliquity-tick'); tx(95, yObl(v) + 7, String(v), 'end', 20, 'obliquity-tick-label'); });
[24.5, 23.5, 22.5].forEach(v => ln(117, yObl(v), 123.5, yObl(v), 'obliquity-minor-tick'));
ln(123.5, yCal(6.2), 123.5, yCal(5.4), 'caloric-axis-line');
calTicks.forEach(v => { ln(110.7, yCal(v), 123.5, yCal(v), 'caloric-tick'); tx(94, yCal(v) + 7, String(v), 'end', 20, 'caloric-tick-label'); });
[6.1, 5.9, 5.7, 5.5].forEach(v => ln(117, yCal(v), 123.5, yCal(v), 'caloric-minor-tick'));
insTicks.forEach(v => { ln(953, yIns(v), 966, yIns(v), 'insolation-tick'); tx(975, yIns(v) + 6, String(v), 'start', 17, 'insolation-tick-label'); });
[390, 370, 350].forEach(v => ln(953, yIns(v), 960, yIns(v), 'insolation-minor-tick'));
lrTicks.forEach(v => { ln(238.5, yLR(v), 251, yLR(v), 'lr04-tick'); tx(224, yLR(v) + 7, String(v), 'end', 20, 'lr04-tick-label'); });
[3.4, 3.8, 4.2, 4.6].forEach(v => ln(245, yLR(v), 251, yLR(v), 'lr04-minor-tick'));
irdTicks.forEach(v => { ln(953, yIRD(v), 967, yIRD(v), 'ird-tick'); tx(980, yIRD(v) + 6, String(v), 'start', 17, 'ird-tick-label'); });
[1200, 400].forEach(v => ln(953, yIRD(v), 960, yIRD(v), 'ird-minor-tick'));
sanTicks.forEach(v => { ln(953, ySan(v), 966, ySan(v), 'sanbao-tick'); tx(975, ySan(v) + 6, String(v), 'start', 17, 'sanbao-tick-label'); });
[-10.5, -9.5, -8.5, -7.5, -6.5].forEach(v => ln(953, ySan(v), 960, ySan(v), 'sanbao-minor-tick'));
odpTicks.forEach(v => { ln(238.5, yODP(v), 251, yODP(v), 'odp977-tick'); tx(225, yODP(v) + 7, String(v), 'end', 20, 'odp977-tick-label'); });
[0.5, 1.5, 2.5].forEach(v => ln(245, yODP(v), 251, yODP(v), 'odp977-minor-tick'));
mdTicks.forEach(v => { ln(953, yMD(v), 966, yMD(v), 'md01-tick'); tx(977, yMD(v) + 7, String(v), 'start', 19, 'md01-tick-label'); });
[0.5, 1.5, 2.5].forEach(v => ln(953, yMD(v), 960, yMD(v), 'md01-minor-tick'));
</script>
</body></html>
